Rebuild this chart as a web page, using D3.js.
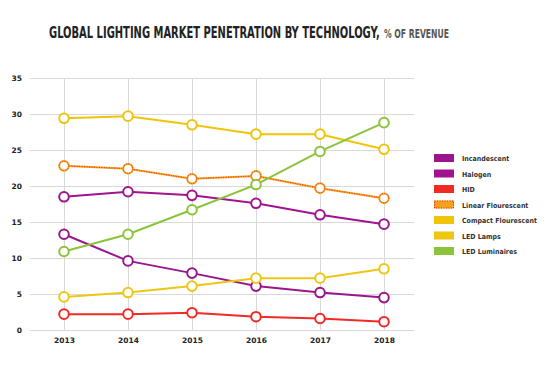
<!DOCTYPE html>
<html>
<head>
<meta charset="utf-8">
<script src="https://cdnjs.cloudflare.com/ajax/libs/d3/7.8.5/d3.min.js"></script>
<style>
  body { margin: 0; background: #fff; }
  svg { display: block; }
</style>
</head>
<body>
<div id="chart"></div>
<script>
// data
var years = [2013, 2014, 2015, 2016, 2017, 2018]
var yTicks = [0, 5, 10, 15, 20, 25, 30, 35]
var seriesNames = ["Incandescent", "Halogen", "HID", "Linear Flourescent", "Compact Flourescent", "LED Lamps", "LED Luminaires"]
var incandescent = [13.3, 9.6, 7.9, 6.1, 5.2, 4.5]
var halogen = [18.5, 19.2, 18.7, 17.6, 16.0, 14.7]
var hid = [2.2, 2.2, 2.4, 1.85, 1.6, 1.15]
var linearFlourescent = [22.8, 22.4, 21.0, 21.4, 19.7, 18.3]
var compactFlourescent = [29.4, 29.7, 28.5, 27.2, 27.2, 25.1]
var ledLamps = [4.6, 5.2, 6.1, 7.2, 7.2, 8.5]
var ledLuminaires = [10.9, 13.3, 16.7, 20.2, 24.8, 28.8]

var seriesValues = [incandescent, halogen, hid, linearFlourescent, compactFlourescent, ledLamps, ledLuminaires]
var colors = ["#99168d", "#a1138f", "#f22a26", "#f6a11c", "#f0c40a", "#eec614", "#8bc43a"]
var dotColors = [null, null, null, "#f22a26", null, null, null]

var width = 549, height = 370

var svg = d3.select("#chart").append("svg")
    .attr("width", width)
    .attr("height", height)

var titleFont = "'Liberation Sans Narrow', 'DejaVu Sans Condensed', sans-serif"

// squeeze a text horizontally so it spans exactly w pixels
function fitText(sel, x0, y0, w) {
    var natural = sel.node().getComputedTextLength()
    sel.attr("transform", "translate(" + x0 + "," + y0 + ") scale(" + (w / natural) + ",1)")
}

// title
var t1 = svg.append("text")
    .attr("font-family", titleFont)
    .attr("font-weight", "bold")
    .attr("font-size", 16.5)
    .attr("fill", "#222")
    .text("GLOBAL LIGHTING MARKET PENETRATION BY TECHNOLOGY,")
fitText(t1, 49, 38, 331)
var t2 = svg.append("text")
    .attr("font-family", titleFont)
    .attr("font-weight", "bold")
    .attr("font-size", 11.5)
    .attr("fill", "#555")
    .text("% OF REVENUE")
fitText(t2, 384, 38, 65)

var x = d3.scalePoint().domain(years).range([64, 384])
var y = d3.scaleLinear().domain([0, 35]).range([330, 78])

var tickFont = "'DejaVu Sans', Verdana, sans-serif"

// horizontal grid
var grid = svg.append("g")
grid.selectAll("line.h")
    .data(yTicks)
    .enter().append("line")
    .attr("x1", 30).attr("x2", 414)
    .attr("y1", function (d) { return y(d) + 0.5 })
    .attr("y2", function (d) { return y(d) + 0.5 })
    .attr("stroke", "#d9d9d9")
    .attr("stroke-width", 1)

// vertical grid
grid.selectAll("line.v")
    .data(years)
    .enter().append("line")
    .attr("x1", function (d) { return x(d) + 0.5 })
    .attr("x2", function (d) { return x(d) + 0.5 })
    .attr("y1", y(35)).attr("y2", y(0))
    .attr("stroke", "#d9d9d9")
    .attr("stroke-width", 1)

// y axis labels
var yAxis = svg.append("g")
    .attr("transform", "translate(22,0)")
    .call(d3.axisLeft(y).tickValues(yTicks).tickSize(0).tickPadding(0))
yAxis.select(".domain").remove()
yAxis.selectAll("text")
    .attr("font-family", tickFont)
    .attr("font-size", 7.5)
    .attr("font-weight", "bold")
    .attr("fill", "#222")

// x axis labels
var xAxis = svg.append("g")
    .attr("transform", "translate(0,338)")
    .call(d3.axisBottom(x).tickSize(0).tickPadding(0))
xAxis.select(".domain").remove()
xAxis.selectAll("text")
    .attr("font-family", tickFont)
    .attr("font-size", 7.5)
    .attr("font-weight", "bold")
    .attr("fill", "#222")

var line = d3.line()
    .x(function (d, i) { return x(years[i]) })
    .y(function (d) { return y(d) })

// draw series
seriesValues.forEach(function (vals, k) {
    var g = svg.append("g")
    g.append("path")
        .datum(vals)
        .attr("d", line)
        .attr("fill", "none")
        .attr("stroke", colors[k])
        .attr("stroke-width", 2)
    if (dotColors[k]) {
        g.append("path")
            .datum(vals)
            .attr("d", line)
            .attr("fill", "none")
            .attr("stroke", dotColors[k])
            .attr("stroke-width", 1)
            .attr("stroke-dasharray", "1,1.5")
    }
    g.selectAll("circle.m")
        .data(vals)
        .enter().append("circle")
        .attr("cx", function (d, i) { return x(years[i]) })
        .attr("cy", function (d) { return y(d) })
        .attr("r", 4.8)
        .attr("fill", "#fff")
        .attr("stroke", colors[k])
        .attr("stroke-width", 2)
    if (dotColors[k]) {
        g.selectAll("circle.d")
            .data(vals)
            .enter().append("circle")
            .attr("cx", function (d, i) { return x(years[i]) })
            .attr("cy", function (d) { return y(d) })
            .attr("r", 4.8)
            .attr("fill", "none")
            .attr("stroke", dotColors[k])
            .attr("stroke-width", 1)
            .attr("stroke-dasharray", "1,1.5")
    }
})

// legend
var legend = svg.append("g")
var legendY = d3.scalePoint().domain(seriesNames).range([158, 251])
var rows = legend.selectAll("g")
    .data(seriesNames)
    .enter().append("g")
    .attr("transform", function (d) { return "translate(434," + legendY(d) + ")" })
rows.append("rect")
    .attr("x", 0).attr("y", -4)
    .attr("width", 20).attr("height", 8)
    .attr("fill", function (d, i) { return colors[i] })
rows.filter(function (d, i) { return dotColors[i] })
    .append("rect")
    .attr("x", 0.5).attr("y", -3.5)
    .attr("width", 19).attr("height", 7)
    .attr("fill", "none")
    .attr("stroke", "#f22a26")
    .attr("stroke-dasharray", "1,1.5")
rows.append("text")
    .attr("x", 28).attr("y", 3)
    .attr("font-family", "'DejaVu Sans Condensed', 'DejaVu Sans', sans-serif")
    .attr("font-size", 7)
    .attr("font-weight", "bold")
    .attr("fill", "#333")
    .text(function (d) { return d })
</script>
</body>
</html>
